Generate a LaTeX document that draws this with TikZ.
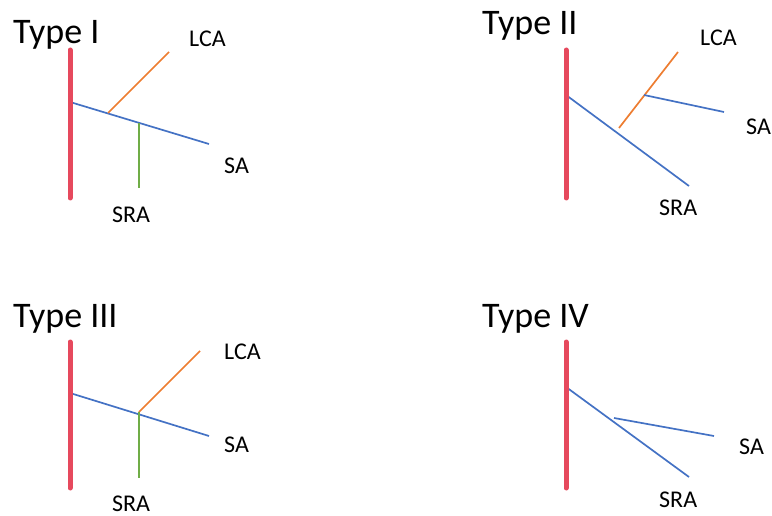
\documentclass[tikz,border=0pt]{standalone}
\usepackage{fontspec}
\setmainfont{Carlito}
\definecolor{aorta}{HTML}{E6495D}
\definecolor{bl}{HTML}{4472C4}
\definecolor{og}{HTML}{ED7D31}
\definecolor{gr}{HTML}{70AD47}
\begin{document}
\begin{tikzpicture}[x=1pt,y=-1pt,
  title/.style={anchor=base west,inner sep=0pt,font=\fontsize{36}{42}\selectfont},
  lab/.style={anchor=base west,inner sep=0pt,font=\fontsize{24}{28}\selectfont},
  bar/.style={draw=aorta,line width=5pt,line cap=round},
  vb/.style={draw=bl,line width=1.7pt},
  vo/.style={draw=og,line width=1.7pt},
  vg/.style={draw=gr,line width=1.7pt}]
\useasboundingbox (0,0) rectangle (772,516);
% ---- Type I
\node[title] (t1) at (13,44) {Type I};
\coordinate (a1t) at (70,50); \coordinate (a1b) at (70,198);
\coordinate (s1o) at (70,102); \coordinate (s1e) at (209,144);
\coordinate (l1o) at (108,113); \coordinate (l1e) at (169,52);
\coordinate (r1o) at (139,123); \coordinate (r1e) at (139,188);
\draw[vb] (s1o) -- (s1e);
\draw[vo] (l1o) -- (l1e);
\draw[vg] (r1o) -- (r1e);
\draw[bar] (a1t) -- (a1b);
\node[lab] (lca1) at (189,47) {LCA};
\node[lab] (sa1) at (224,174) {SA};
\node[lab] (sra1) at (112,223) {SRA};
% ---- Type II
\node[title] (t2) at (482,35) {Type II};
\coordinate (a2t) at (566,50); \coordinate (a2b) at (566,198);
\coordinate (r2o) at (566,95); \coordinate (r2e) at (689,186);
\coordinate (l2o) at (619,128); \coordinate (l2e) at (678,52);
\coordinate (s2o) at (644,95); \coordinate (s2e) at (724,112);
\draw[vb] (r2o) -- (r2e);
\draw[vo] (l2o) -- (l2e);
\draw[vb] (s2o) -- (s2e);
\draw[bar] (a2t) -- (a2b);
\node[lab] (lca2) at (700,46) {LCA};
\node[lab] (sa2) at (746,135) {SA};
\node[lab] (sra2) at (659,216) {SRA};
% ---- Type III
\node[title] (t3) at (13,327) {Type III};
\coordinate (a3t) at (70,342); \coordinate (a3b) at (70,488);
\coordinate (s3o) at (70,393); \coordinate (s3e) at (209,436);
\coordinate (l3o) at (139,412); \coordinate (l3e) at (200,351);
\coordinate (r3o) at (139,412); \coordinate (r3e) at (139,478);
\draw[vb] (s3o) -- (s3e);
\draw[vo] (l3o) -- (l3e);
\draw[vg] (r3o) -- (r3e);
\draw[bar] (a3t) -- (a3b);
\node[lab] (lca3) at (224,359) {LCA};
\node[lab] (sa3) at (224,452) {SA};
\node[lab] (sra3) at (112,511) {SRA};
% ---- Type IV
\node[title] (t4) at (482,327) {Type IV};
\coordinate (a4t) at (566,342); \coordinate (a4b) at (566,488);
\coordinate (r4o) at (566,387); \coordinate (r4e) at (689,477);
\coordinate (s4o) at (614,418); \coordinate (s4e) at (714,436);
\draw[vb] (r4o) -- (r4e);
\draw[vb] (s4o) -- (s4e);
\draw[bar] (a4t) -- (a4b);
\node[lab] (sa4) at (739,454) {SA};
\node[lab] (sra4) at (659,507) {SRA};
\end{tikzpicture}
\end{document}
